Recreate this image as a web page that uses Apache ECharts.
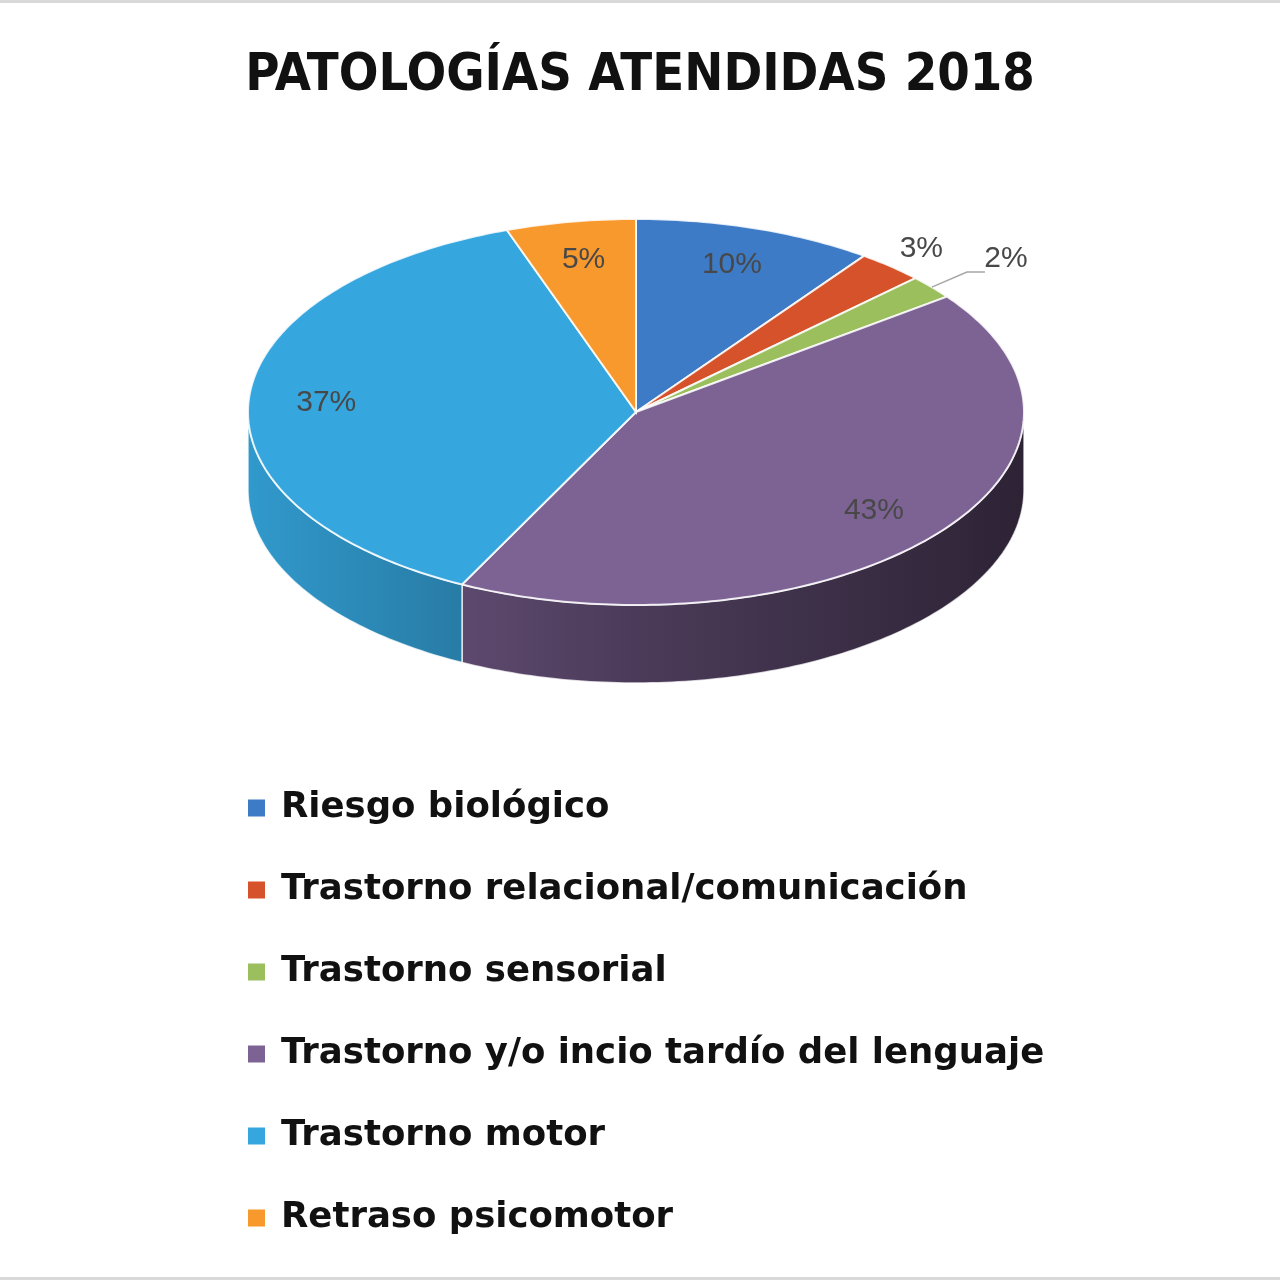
<!DOCTYPE html>
<html>
<head>
<meta charset="utf-8">
<script src="https://cdn.jsdelivr.net/npm/echarts@6/dist/echarts.min.js"></script>
<style>
html, body { margin: 0; padding: 0; background: #fff; }
#chart { width: 1280px; height: 1280px; }
</style>
</head>
<body>
<div id="chart"></div>
<script>
// datos del gráfico (porcentajes estimados de la imagen)
var categories = ['Riesgo biológico', 'Trastorno relacional/comunicación', 'Trastorno sensorial',
	'Trastorno y/o incio tardío del lenguaje', 'Trastorno motor', 'Retraso psicomotor'];
var values = [10.0, 2.8, 2.0, 42.6, 37.2, 5.4];
var colors = ['#3E7BC6', '#D6522A', '#9CBF5E', '#7D6294', '#35A6DE', '#F8992E'];

// geometría de la tarta 3D
var cx = 636, cy = 412, rx = 388, ry = 193, depth = 78;

var total = values.reduce(function (a, b) { return a + b; }, 0);
var starts = [];
var acc = 0;
values.forEach(function (v) { starts.push(acc / total * Math.PI * 2); acc += v; });

function pt(t, r, dy) {
	return [cx + rx * r * Math.sin(t), cy - ry * r * Math.cos(t) + (dy || 0)];
}

function shade(hex, f) {
	var n = parseInt(hex.slice(1), 16);
	var r = Math.round(((n >> 16) & 255) * f), g = Math.round(((n >> 8) & 255) * f), b = Math.round((n & 255) * f);
	return 'rgb(' + r + ',' + g + ',' + b + ')';
}

function arc(a0, a1, r, dy) {
	var pts = [];
	var steps = Math.max(2, Math.ceil((a1 - a0) / (Math.PI / 180)));
	for (var k = 0; k <= steps; k++) {
		pts.push(pt(a0 + (a1 - a0) * k / steps, r, dy));
	}
	return pts;
}

function makeRender(i) {
	return function (params, api) {
		var v = api.value(0);
		var a0 = starts[i];
		var a1 = a0 + v / total * Math.PI * 2;
		var color = colors[i];
		var children = [];

		// pared lateral visible
		var s = Math.max(a0, Math.PI / 2), e = Math.min(a1, Math.PI * 1.5);
		if (s < e) {
			var top = arc(s, e, 1, 0);
			var bottom = arc(s, e, 1, depth).reverse();
			children.push({
				type: 'polygon',
				shape: { points: top.concat(bottom) },
				style: {
					fill: new echarts.graphic.LinearGradient(cx - rx, 0, cx + rx, 0, [
						{ offset: 0, color: shade(color, 0.92) },
						{ offset: 0.5, color: shade(color, 0.6) },
						{ offset: 1, color: shade(color, 0.36) }
					], true),
					stroke: 'rgba(255,255,255,0.75)',
					lineWidth: 1.5
				}
			});
		}

		// cara superior
		children.push({
			type: 'polygon',
			shape: { points: [[cx, cy]].concat(arc(a0, a1, 1, 0)) },
			style: { fill: color, stroke: 'rgba(255,255,255,0.85)', lineWidth: 2 }
		});

		// etiqueta
		var mid = (a0 + a1) / 2;
		var pct = Math.round(v / total * 100) + '%';
		var font = '30px "Liberation Sans", sans-serif';
		var txtColor = '#484848';
		if (v / total >= 0.04) {
			var p = pt(mid, 0.8, 0);
			children.push({
				type: 'text',
				style: { text: pct, x: p[0], y: p[1], align: 'center', verticalAlign: 'middle', fill: txtColor, font: font }
			});
		} else {
			var prevSmall = i > 0 && values[i - 1] / total < 0.04;
			if (!prevSmall) {
				var q = pt(mid, 1.12, 0);
				children.push({
					type: 'text',
					style: { text: pct, x: q[0], y: q[1], align: 'center', verticalAlign: 'middle', fill: txtColor, font: font }
				});
			} else {
				var lp = pt(mid + 0.01, 1.24, 0);
				var rim = pt(mid, 1.0, 0);
				var lx = lp[0] - 21, ly = lp[1] + 13;
				children.push({
					type: 'polyline',
					shape: { points: [rim, [lx - 18, ly], [lx, ly]] },
					style: { stroke: '#a6a6a6', lineWidth: 1.5, fill: null }
				});
				children.push({
					type: 'text',
					style: { text: pct, x: lp[0], y: lp[1], align: 'center', verticalAlign: 'middle', fill: txtColor, font: font }
				});
			}
		}
		return { type: 'group', children: children };
	};
}

var series = categories.map(function (name, i) {
	return {
		type: 'custom',
		name: name,
		coordinateSystem: 'none',
		itemStyle: { color: colors[i] },
		renderItem: makeRender(i),
		data: [[values[i]]],
		animation: false,
		silent: true
	};
});

var chart = echarts.init(document.getElementById('chart'));
chart.setOption({
	backgroundColor: '#fff',
	title: {
		text: 'PATOLOGÍAS ATENDIDAS 2018',
		left: 'center',
		top: 45,
		textStyle: { fontFamily: '"DejaVu Sans Condensed", "DejaVu Sans"', fontWeight: 'bold', fontSize: 52, color: '#111' }
	},
	legend: {
		data: categories,
		orient: 'vertical',
		left: 243,
		top: 783,
		icon: 'rect',
		itemWidth: 17,
		itemHeight: 17,
		itemGap: 42,
		selectedMode: false,
		textStyle: { fontFamily: '"DejaVu Sans"', fontWeight: 'bold', fontSize: 35.5, color: '#111', lineHeight: 40, padding: [0, 0, 0, 11] }
	},
	graphic: [
		{ type: 'rect', shape: { x: 0, y: 0, width: 1280, height: 3 }, style: { fill: '#d9d9d9' } },
		{ type: 'rect', shape: { x: 0, y: 1277, width: 1280, height: 3 }, style: { fill: '#d9d9d9' } }
	],
	series: series
});
</script>
</body>
</html>
